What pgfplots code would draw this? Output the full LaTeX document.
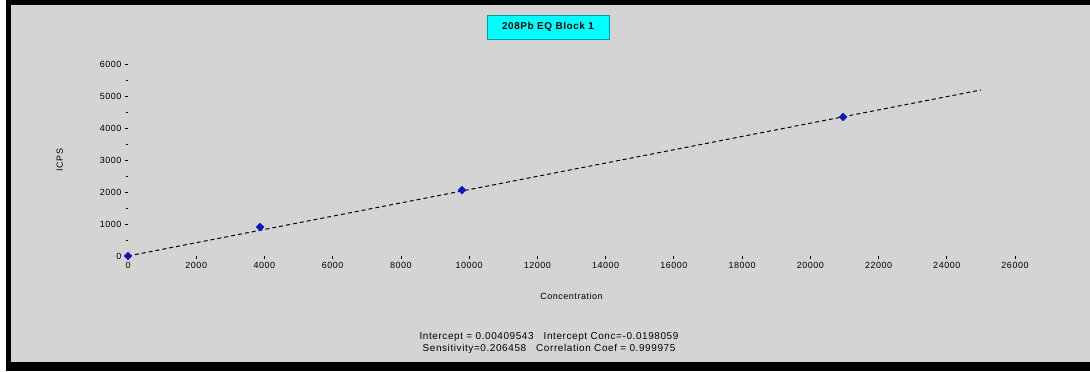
\documentclass[border=0pt]{standalone}
\usepackage{pgfplots}
\pgfplotsset{compat=1.18}
\usepackage{fontspec}
\setmainfont{Liberation Sans}[LetterSpace=6]
\begin{document}
\begin{tikzpicture}[x=1bp,y=1bp]
% frame and background (1 bp = 1 px of the reference)
\path[use as bounding box] (-128,-115) rectangle (962,256);
\fill[white] (-128,-115) rectangle (962,256);
\fill[black] (-122,-115) rectangle (962,256);
\fill[fill={rgb,255:red,212;green,212;blue,212}] (-117,-106) rectangle (962,251);
\begin{axis}[
  at={(0,0)}, anchor=origin,
  scale only axis, width=887bp, height=192bp,
  xmin=0, xmax=26000, ymin=0, ymax=6000,
  clip=false,
  axis line style={draw=none},
  xtick={0,2000,...,26000},
  ytick={0,1000,...,6000},
  xtick pos=bottom, ytick pos=left,
  minor y tick num=1,
  tick align=outside,
  major tick length=3bp, minor tick length=2bp,
  tick style={black, line width=0.8pt},
  every tick label/.append style={font=\fontsize{9}{11}\selectfont},
  /pgf/number format/assume math mode=true,
  /pgf/number format/set thousands separator={},
  scaled ticks=false,
  xlabel={Concentration},
  ylabel={ICPS},
  xlabel style={font=\fontsize{9}{11}\selectfont, yshift=-17bp},
  ylabel style={font=\fontsize{9}{11}\selectfont, yshift=30bp},
]
\addplot[black, line width=1pt, dash pattern=on 4bp off 3bp] coordinates {(0,0) (25000,5188)};
\addplot[only marks, mark=square*, mark size=2.8bp, mark options={rotate=45},
  color={rgb,255:red,20;green,20;blue,190}]
  coordinates {(0,0) (3870,906) (9790,2062) (20960,4344)};
\end{axis}
% title
\node[fill={rgb,255:red,0;green,255;blue,255}, draw={rgb,255:red,0;green,160;blue,160}, line width=0.8pt,
      minimum width=122bp, minimum height=24bp, inner sep=2bp,
      font=\bfseries\fontsize{10}{12}\selectfont] at (420,229) {208Pb EQ Block 1};
% statistics text
\node[font=\fontsize{10}{12}\selectfont, align=center, inner sep=0pt] at (421,-87)
  {Intercept = 0.00409543\quad Intercept Conc=-0.0198059\\
   Sensitivity=0.206458\quad Correlation Coef = 0.999975};
\end{tikzpicture}
\end{document}
